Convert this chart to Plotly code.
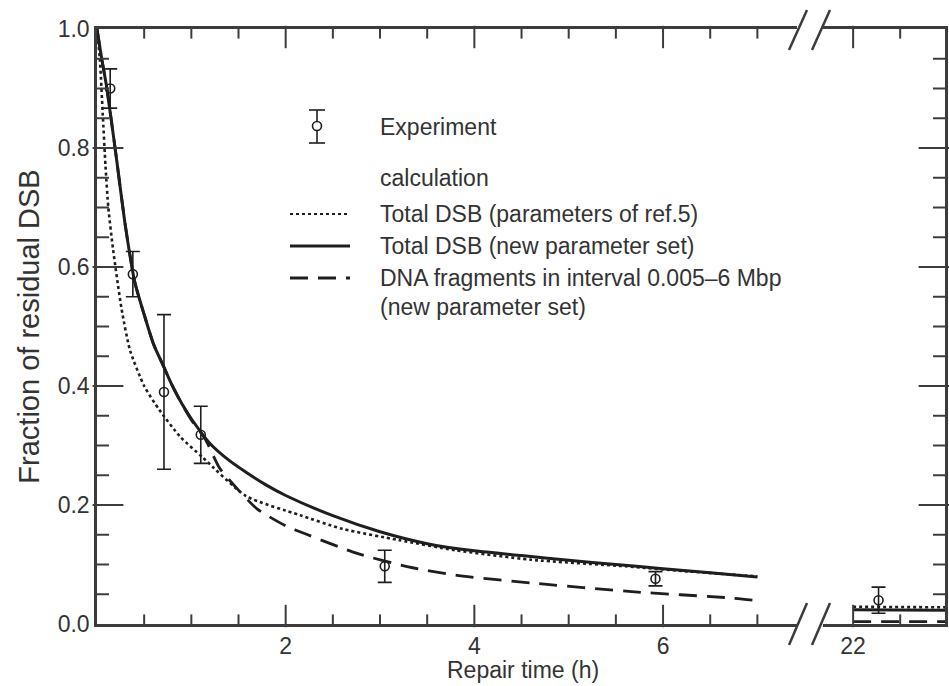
import plotly.graph_objects as go

# ---- data -------------------------------------------------------------
# Experiment (repair time in h, fraction of residual DSB, error)
t_exp = [0.14, 0.38, 0.71, 1.10, 3.05, 5.92]
y_exp = [0.90, 0.588, 0.39, 0.318, 0.097, 0.076]
err_exp = [0.033, 0.038, 0.13, 0.048, 0.027, 0.012]
t_exp_late = [22.27]
y_exp_late = [0.04]
err_exp_late = [0.022]

# Calculation: total DSB, parameters of ref.5
t_ref5 = [0, 0.03, 0.06, 0.09, 0.12, 0.17, 0.26, 0.35, 0.5, 0.66, 0.88, 1.12,
          1.58, 2.15, 2.6, 3.2, 3.8, 4.6, 5.6, 6.3, 7.0]
dsb_ref5 = [1.0, 0.95, 0.86, 0.77, 0.70, 0.63, 0.53, 0.46, 0.40, 0.36, 0.315,
            0.28, 0.215, 0.183, 0.16, 0.141, 0.124, 0.108, 0.097, 0.088, 0.080]

# Calculation: total DSB, new parameter set
t_new = [0, 0.05, 0.1, 0.2, 0.3, 0.4, 0.5, 0.6, 0.7, 0.8, 0.9, 1.0, 1.2, 1.4,
         1.6, 1.8, 2.0, 2.5, 3.0, 3.5, 4.0, 4.5, 5.0, 5.5, 6.0, 6.5, 7.0]
dsb_new = [1.0, 0.95, 0.905, 0.79, 0.67, 0.575, 0.52, 0.47, 0.435, 0.40, 0.37,
           0.345, 0.303, 0.275, 0.253, 0.233, 0.216, 0.182, 0.155, 0.135, 0.123,
           0.115, 0.107, 0.100, 0.093, 0.086, 0.079]

# Calculation: DNA fragments 0.005-6 Mbp, new parameter set
t_frag = [0, 0.05, 0.1, 0.2, 0.3, 0.4, 0.5, 0.6, 0.7, 0.8, 0.9, 1.0, 1.15, 1.3,
          1.5, 1.7, 2.0, 2.2, 2.75, 3.3, 3.8, 4.6, 5.7, 6.7, 7.0]
frag_new = [1.0, 0.95, 0.905, 0.79, 0.67, 0.575, 0.52, 0.47, 0.435, 0.40, 0.37,
            0.343, 0.31, 0.262, 0.225, 0.193, 0.165, 0.152, 0.119, 0.096, 0.082,
            0.069, 0.054, 0.044, 0.039]

# Late times (22-23 h)
t_late = [22.0, 23.0]
dsb_ref5_late = [0.029, 0.028]
dsb_new_late = [0.024, 0.023]
frag_new_late = [0.004, 0.004]

# Tick positions
x_major_left = [2, 4, 6]
x_minor_left = [0.5, 1.0, 1.5, 2.5, 3.0, 3.5, 4.5, 5.0, 5.5, 6.5, 7.0]
x_major_right = [22]
x_minor_right = [22.5]
y_major = [0.2, 0.4, 0.6, 0.8]
y_minor = [0.05, 0.1, 0.15, 0.25, 0.3, 0.35, 0.45, 0.5, 0.55, 0.65, 0.7, 0.75,
           0.85, 0.9, 0.95]

# ---- styling ----------------------------------------------------------
INK = "#1e1e1e"
AXIS = "#3c3c3c"
TEXT = "#333333"
FONT = "Liberation Sans, Arial, sans-serif"

W, H = 949, 686
L, R, T, B = 97, 4, 29, 62
PW, PH = W - L - R, H - T - B

X_LEFT = [0, 7.42]
X_RIGHT = [21.68, 22.976]
Y_RANGE = [0, 1.0]
MAJ_X, MIN_X, MAJ_Y, MIN_Y = 16, 8, 22, 10   # tick lengths in px


def px(x):
    return (x - L) / PW


def py(y):
    return (H - B - y) / PH


split_l = px(797)
split_r = px(823)
left_px = split_l * PW
right_px = (1 - split_r) * PW

fig = go.Figure()


def curve(x, y, dash, width, xa="x", ya="y"):
    fig.add_trace(go.Scatter(
        x=x, y=y, mode="lines", xaxis=xa, yaxis=ya, showlegend=False,
        line=dict(color=INK, width=width, dash=dash, shape="spline", smoothing=0.6),
        hoverinfo="skip"))


curve(t_ref5, dsb_ref5, "dot", 2.6)
curve(t_frag, frag_new, "18px,10px", 2.8)
curve(t_new, dsb_new, "solid", 3.0)
curve(t_late, dsb_ref5_late, "dot", 2.6, "x2", "y2")
curve(t_late, frag_new_late, "18px,10px", 2.8, "x2", "y2")
curve(t_late, dsb_new_late, "solid", 3.0, "x2", "y2")


def points(x, y, e, xa="x", ya="y"):
    fig.add_trace(go.Scatter(
        x=x, y=y, mode="markers", xaxis=xa, yaxis=ya, showlegend=False,
        marker=dict(symbol="circle-open", size=9, color=INK, line=dict(width=1.6)),
        error_y=dict(type="data", array=e, color=INK, thickness=1.6, width=7),
        hoverinfo="skip"))


points(t_exp, y_exp, err_exp)
points(t_exp_late, y_exp_late, err_exp_late, "x2", "y2")


# ---- inward tick marks (drawn as line markers on the axis frame) -------
def tick_marks(x, y, symbol, length, xa, ya):
    fig.add_trace(go.Scatter(
        x=x, y=y, mode="markers", xaxis=xa, yaxis=ya, showlegend=False,
        cliponaxis=False, hoverinfo="skip",
        marker=dict(symbol=symbol, size=length, color=AXIS,
                    line=dict(color=AXIS, width=2))))


y_per_px = (Y_RANGE[1] - Y_RANGE[0]) / PH
for xs, ln in [(x_major_left, MAJ_X), (x_minor_left, MIN_X)]:
    off = ln / 2 * y_per_px
    tick_marks(xs, [Y_RANGE[0] + off] * len(xs), "line-ns", ln, "x", "y")
    tick_marks(xs, [Y_RANGE[1] - off] * len(xs), "line-ns", ln, "x", "y")
for xs, ln in [(x_major_right, MAJ_X), (x_minor_right, MIN_X)]:
    off = ln / 2 * y_per_px
    tick_marks(xs, [Y_RANGE[0] + off] * len(xs), "line-ns", ln, "x2", "y2")
    tick_marks(xs, [Y_RANGE[1] - off] * len(xs), "line-ns", ln, "x2", "y2")

xl_per_px = (X_LEFT[1] - X_LEFT[0]) / left_px
xr_per_px = (X_RIGHT[1] - X_RIGHT[0]) / right_px
for ys, ln in [(y_major, MAJ_Y), (y_minor, MIN_Y)]:
    tick_marks([X_LEFT[0] + ln / 2 * xl_per_px] * len(ys), ys, "line-ew", ln, "x", "y")
    tick_marks([X_RIGHT[1] - ln / 2 * xr_per_px] * len(ys), ys, "line-ew", ln, "x2", "y2")

# ---- axes -------------------------------------------------------------


def x_axis(domain, rng, anchor):
    return dict(
        domain=domain, range=rng, anchor=anchor,
        showline=True, linewidth=2.5, linecolor=AXIS, mirror=True,
        ticks="", tickmode="linear", tick0=0, dtick=2, labelalias={"0": " "},
        showgrid=False, zeroline=False,
        tickfont=dict(family=FONT, size=23, color=TEXT))


def y_axis(anchor, side, labels):
    return dict(
        domain=[0, 1], range=Y_RANGE, anchor=anchor, side=side,
        showline=True, linewidth=2.5, linecolor=AXIS, mirror=False,
        ticks="", tickmode="linear", tick0=0, dtick=0.2, tickformat=".1f",
        showticklabels=labels, showgrid=False, zeroline=False,
        tickfont=dict(family=FONT, size=23, color=TEXT))


fig.update_layout(
    template="none",
    width=W, height=H,
    margin=dict(l=L, r=R, t=T, b=B),
    paper_bgcolor="white", plot_bgcolor="white",
    showlegend=False,
    xaxis=x_axis([0, split_l], X_LEFT, "y"),
    xaxis2=x_axis([split_r, 1], X_RIGHT, "y2"),
    yaxis=y_axis("x", "left", True),
    yaxis2=y_axis("x2", "right", False),
)
fig.update_yaxes(selector=dict(anchor="x"),
                 title=dict(text="Fraction of residual DSB", standoff=10,
                            font=dict(family=FONT, size=29, color=TEXT)))

# x-axis title, centred under both panels
fig.add_annotation(x=px(523), y=py(670), xref="paper", yref="paper",
                   text="Repair time (h)", showarrow=False,
                   xanchor="center", yanchor="middle",
                   font=dict(family=FONT, size=23, color=TEXT))

# ---- axis break marks -------------------------------------------------
for x0, x1 in [(789, 807), (812, 830)]:
    for ya, yb in [(50, 10), (645, 603)]:
        fig.add_shape(type="line", xref="paper", yref="paper",
                      x0=px(x0), y0=py(ya), x1=px(x1), y1=py(yb),
                      line=dict(color=AXIS, width=2.5))

# ---- legend -----------------------------------------------------------
lx0, lx1, tx = 290, 350, 378
sym_x = 317
# experiment symbol: error bar with open circle
fig.add_shape(type="line", xref="paper", yref="paper",
              x0=px(sym_x), x1=px(sym_x), y0=py(110), y1=py(143),
              line=dict(color=INK, width=1.6))
for yy in (110, 143):
    fig.add_shape(type="line", xref="paper", yref="paper",
                  x0=px(sym_x - 8), x1=px(sym_x + 8), y0=py(yy), y1=py(yy),
                  line=dict(color=INK, width=1.6))
fig.add_shape(type="circle", xref="paper", yref="paper",
              x0=px(sym_x - 4.5), x1=px(sym_x + 4.5), y0=py(130.5), y1=py(121.5),
              line=dict(color=INK, width=1.6), fillcolor="white")

for yy, dash, wdt in [(214, "dot", 2.2), (246, "solid", 3.0), (278, "18px,10px", 2.8)]:
    fig.add_shape(type="line", xref="paper", yref="paper",
                  x0=px(lx0), x1=px(lx1), y0=py(yy), y1=py(yy),
                  line=dict(color=INK, width=wdt, dash=dash))

legend_rows = [
    ("Experiment", 127),
    ("calculation", 178),
    ("Total DSB (parameters of ref.5)", 214),
    ("Total DSB (new parameter set)", 246),
    ("DNA fragments in interval 0.005\u20136 Mbp", 278),
    ("(new parameter set)", 307),
]
for txt, yy in legend_rows:
    fig.add_annotation(x=px(tx), y=py(yy), xref="paper", yref="paper",
                       text=txt, showarrow=False, xanchor="left", yanchor="middle",
                       font=dict(family=FONT, size=23, color=TEXT))

fig.write_html("out.html")
